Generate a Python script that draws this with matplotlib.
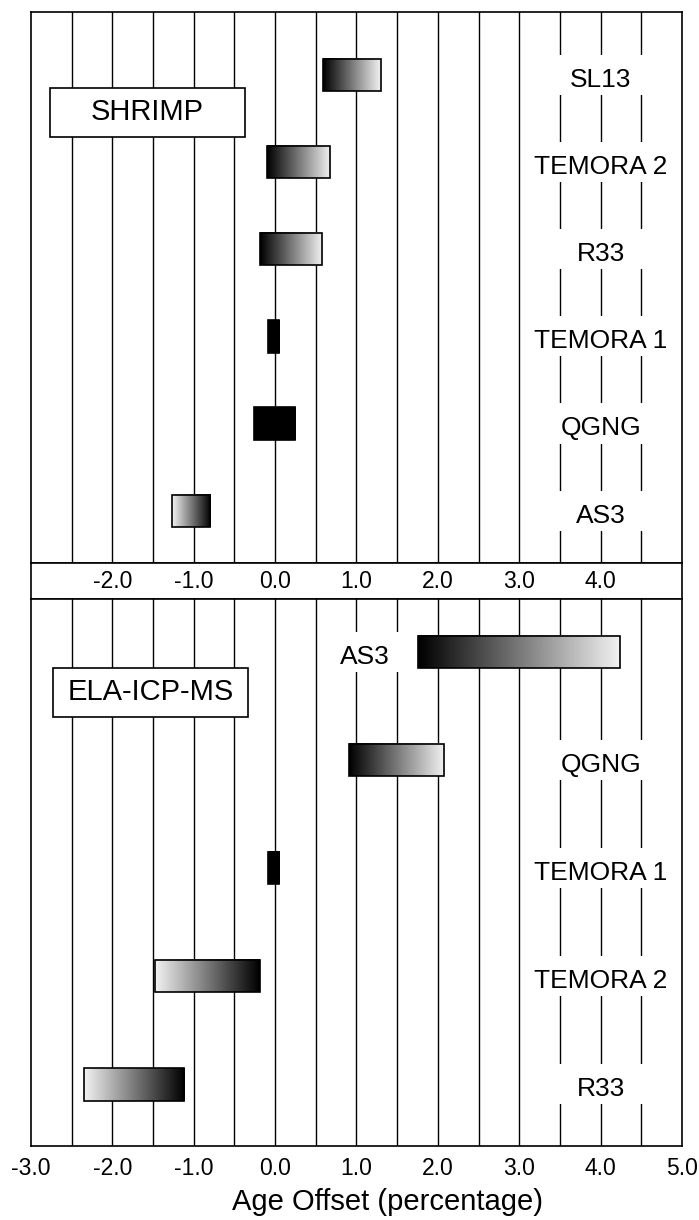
import numpy as np
import matplotlib
matplotlib.use('Agg')
import matplotlib.pyplot as plt
from matplotlib.patches import Rectangle

plt.rcParams['font.family'] = ['Liberation Sans', 'DejaVu Sans']

# SHRIMP (top panel), rows listed top to bottom
shrimp_names = ['SL13', 'TEMORA 2', 'R33', 'TEMORA 1', 'QGNG', 'AS3']
shrimp_lo = [0.59, -0.10, -0.19, -0.09, -0.26, -1.27]
shrimp_hi = [1.30, 0.68, 0.58, 0.05, 0.25, -0.80]
shrimp_solid = [False, False, False, True, True, False]
shrimp_label_x = [4.0, 4.0, 4.0, 4.0, 4.0, 4.0]

# ELA-ICP-MS (bottom panel)
ela_names = ['AS3', 'QGNG', 'TEMORA 1', 'TEMORA 2', 'R33']
ela_lo = [1.75, 0.91, -0.09, -1.47, -2.35]
ela_hi = [4.24, 2.08, 0.05, -0.18, -1.12]
ela_solid = [False, False, True, False, False]
ela_label_x = [1.1, 4.0, 4.0, 4.0, 4.0]

x_ticks = [-3, -2, -1, 0, 1, 2, 3, 4, 5]
band_ticks = [-2, -1, 0, 1, 2, 3, 4]
grid_x = np.arange(-3, 5.01, 0.5)

LW = 1.2


def draw_panel(ax, names, lo, hi, solid, label_x, ylim, bar_h, mask_h, box, title):
    # vertical grid every 0.5 drawn as plain lines so majors don't eat minors
    for gx in grid_x[1:-1]:
        ax.axvline(gx, color='black', linewidth=1.0, zorder=0.5)
    ax.set_yticks([])
    ax.tick_params(which='both', length=0)
    for s in ax.spines.values():
        s.set_linewidth(LW)

    for i, name in enumerate(names):
        # gradient bar, dark end toward zero
        if solid[i]:
            g = np.zeros((1, 2))
        else:
            g = np.linspace(0.0, 0.95, 256)[None, :]
            if (lo[i] + hi[i]) / 2 < 0:
                g = g[:, ::-1]
        ax.imshow(g, extent=(lo[i], hi[i], i + bar_h / 2, i - bar_h / 2),
                  cmap='gray', vmin=0, vmax=1, aspect='auto',
                  interpolation='bilinear', zorder=2)
        ax.add_patch(Rectangle((lo[i], i - bar_h / 2), hi[i] - lo[i], bar_h,
                               fill=False, ec='black', lw=LW, zorder=3))

        # label with white mask breaking the grid lines
        mw = 0.58 if label_x[i] > 3 else 0.45
        ax.add_patch(Rectangle((label_x[i] - mw, i - mask_h / 2), 2 * mw, mask_h,
                               fc='white', ec='none', zorder=1))
        ax.annotate(name, (label_x[i], i), xytext=(0, -3.5),
                    textcoords='offset points', ha='center', va='center',
                    fontsize=19, zorder=4)

    x0, x1, y0, y1 = box
    ax.add_patch(Rectangle((x0, y0), x1 - x0, y1 - y0, fc='white', ec='black',
                           lw=LW, zorder=3))
    ax.text((x0 + x1) / 2, (y0 + y1) / 2, title, ha='center', va='center',
            fontsize=21, zorder=4)

    ax.set_xlim(-3, 5)
    ax.set_ylim(*ylim)


fig = plt.figure(figsize=(6.99, 12.2), dpi=100)
ax_top = fig.add_axes([0.0443, 0.5385, 0.9314, 0.4516])
ax_band = fig.add_axes([0.0443, 0.5090, 0.9314, 0.0295])
ax_bot = fig.add_axes([0.0443, 0.0607, 0.9314, 0.4484])

draw_panel(ax_top, shrimp_names, shrimp_lo, shrimp_hi, shrimp_solid,
           shrimp_label_x, (5.6, -0.72), 0.37, 0.46,
           (-2.77, -0.37, 0.15, 0.71), 'SHRIMP')
ax_top.set_xticks([])

draw_panel(ax_bot, ela_names, ela_lo, ela_hi, ela_solid,
           ela_label_x, (4.57, -0.49), 0.30, 0.37,
           (-2.73, -0.33, 0.15, 0.60), 'ELA-ICP-MS')
ax_bot.set_xticks(x_ticks)
ax_bot.set_xticklabels(['%.1f' % v for v in x_ticks], fontsize=16.5)
ax_bot.tick_params(axis='x', which='major', length=0, pad=8)
ax_bot.set_xlabel('Age Offset (percentage)', fontsize=21, labelpad=6, x=0.547)

# middle band carrying the scale
ax_band.set_xlim(-3, 5)
ax_band.set_xticks([])
ax_band.set_yticks([])
for s in ax_band.spines.values():
    s.set_linewidth(LW)
for v in band_ticks:
    ax_band.text(v, 0.5, '%.1f' % v, ha='center', va='center', fontsize=16.5,
                 transform=ax_band.get_xaxis_transform())

fig.savefig('out.png', dpi=100)
